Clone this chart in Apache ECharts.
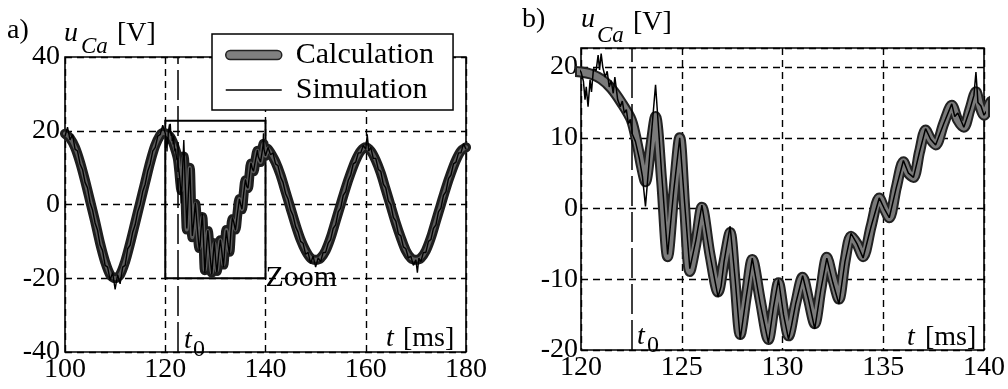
<!DOCTYPE html>
<html><head><meta charset="utf-8">
<script src="https://cdn.jsdelivr.net/npm/echarts/dist/echarts.min.js"></script>
<style>html,body{margin:0;padding:0;background:#fff}#c{width:1008px;height:389px}</style>
</head><body><div id="c"></div>
<script>
// ---- data (t in ms, u_Ca in V) ----
const leftTicksX = [100, 120, 140, 160, 180];
const rightTicksX = [120, 125, 130, 135, 140];
const t0 = 122.5;
const zoomBox = [[120, -20], [140, 22.7]];

const calcBefore = [[100,19.2],[101,18.0],[102,15.5],[103,11.5],[104,6.5],[105,1.0],[106,-4.5],[107,-10.5],[108,-15.5],[109,-19.0],[110,-20.0],[111,-19.0],[112,-15.5],[113,-10.5],[114,-5.0],[115,0.5],[116,6.0],[117,11.5],[118,16.0],[119,18.8],[119.5,19.4]];
const calcZoom = [[120.0,19.3],[120.5,19.0],[121.0,18.3],[121.5,17.0],[122.0,15.0],[122.5,12.5],[122.8,9.0],[123.0,6.0],[123.2,3.8],[123.45,8.5],[123.7,13.0],[124.0,4.0],[124.3,-6.8],[124.6,2.0],[124.9,10.0],[125.15,0.0],[125.4,-8.9],[125.7,-5.0],[126.0,0.2],[126.4,-6.5],[126.8,-11.8],[127.1,-7.5],[127.4,-3.4],[127.65,-10.5],[127.9,-17.8],[128.2,-12.5],[128.5,-7.2],[128.9,-13.0],[129.3,-18.5],[129.55,-14.5],[129.8,-10.5],[130.05,-14.5],[130.3,-18.0],[130.65,-13.5],[131.0,-9.7],[131.3,-13.0],[131.6,-16.3],[131.9,-11.5],[132.2,-6.9],[132.5,-10.0],[132.8,-12.8],[133.1,-7.5],[133.4,-3.9],[133.7,-5.0],[134.0,-6.8],[134.4,-2.5],[134.8,1.5],[135.05,0.0],[135.3,-1.3],[135.65,3.0],[136.0,6.6],[136.25,5.0],[136.5,4.4],[136.8,8.0],[137.1,11.1],[137.35,9.8],[137.6,9.0],[138.0,12.0],[138.4,14.6],[138.7,12.5],[139.0,11.5],[139.3,14.0],[139.6,16.5],[139.8,14.5],[140.0,13.2]];
const calcAfter = [[140.4,15.2],[141,14.0],[142,11.5],[143,8.0],[144,3.5],[145,-1.0],[146,-5.5],[147,-9.5],[148,-12.5],[149,-14.5],[150,-15.0],[151,-14.5],[152,-12.5],[153,-9.0],[154,-4.5],[155,0.0],[156,4.5],[157,8.5],[158,12.0],[159,14.5],[160,15.5],[161,14.5],[162,12.0],[163,8.5],[164,4.0],[165,-0.5],[166,-5.0],[167,-9.0],[168,-12.5],[169,-14.5],[170,-15.0],[171,-14.5],[172,-12.5],[173,-9.0],[174,-4.5],[175,0.0],[176,4.5],[177,8.5],[178,12.0],[179,14.5],[180,15.5]];

const simBefore = [[100,18.5],[100.5,21.0],[101,17.5],[101.5,19.0],[102,15.0],[102.5,14.5],[103,11.0],[103.5,9.5],[104,6.0],[104.5,4.5],[105,0.5],[105.5,-1.5],[106,-5.0],[106.5,-7.0],[107,-11.0],[107.5,-12.5],[108,-16.5],[108.5,-17.0],[109,-20.5],[109.5,-18.5],[110,-23.0],[110.5,-19.0],[111,-21.5],[111.5,-17.0],[112,-16.5],[112.5,-12.0],[113,-11.0],[113.5,-7.5],[114,-5.5],[114.5,-2.0],[115,0.0],[115.5,3.5],[116,5.5],[116.5,9.0],[117,11.0],[117.5,14.5],[118,15.5],[118.5,18.5],[119,19.0],[119.5,21.5]];
const simZoom = [[120.0,19.3],[120.12,18.0],[120.2,15.4],[120.26,17.2],[120.35,14.4],[120.45,18.2],[120.52,16.5],[120.62,19.8],[120.75,19.5],[120.85,21.7],[120.92,19.6],[121.0,21.9],[121.08,20.0],[121.2,18.6],[121.3,19.4],[121.4,17.2],[121.5,18.1],[121.6,16.3],[121.68,18.6],[121.82,15.4],[121.95,14.4],[122.05,15.2],[122.15,13.5],[122.25,14.0],[122.35,12.0],[122.45,12.6],[122.55,10.5],[122.7,9.5],[122.9,7.0],[123.05,4.5],[123.2,0.3],[123.45,9.0],[123.7,17.5],[124.0,5.0],[124.3,-6.5],[124.6,2.5],[124.9,10.0],[125.15,0.5],[125.4,-8.5],[125.7,-4.5],[126.0,0.5],[126.4,-6.5],[126.8,-12.5],[126.95,-11.0],[127.1,-7.5],[127.4,-2.5],[127.65,-10.0],[127.9,-18.5],[128.2,-12.5],[128.5,-7.0],[128.9,-13.5],[129.3,-19.0],[129.55,-14.0],[129.8,-10.0],[130.05,-15.0],[130.3,-18.5],[130.45,-16.5],[130.65,-13.5],[131.0,-9.5],[131.3,-13.0],[131.6,-17.0],[131.9,-11.5],[132.2,-7.0],[132.5,-10.5],[132.8,-13.5],[133.1,-7.5],[133.4,-3.5],[133.7,-5.0],[134.0,-7.0],[134.4,-2.5],[134.8,1.5],[135.05,0.0],[135.3,-1.3],[135.65,3.0],[136.0,6.8],[136.25,5.0],[136.5,4.4],[136.8,8.0],[137.1,11.3],[137.35,9.8],[137.6,9.0],[138.0,12.0],[138.4,14.8],[138.55,13.0],[138.7,13.5],[139.0,11.5],[139.3,14.0],[139.5,16.0],[139.6,19.3],[139.7,15.0],[139.85,14.5],[140.0,13.2]];
const simAfter = [[140.5,15.5],[141,13.5],[141.5,14.0],[142,11.0],[142.5,10.5],[143,7.5],[143.5,6.0],[144,3.0],[144.5,1.5],[145,-1.5],[145.5,-3.0],[146,-6.0],[146.5,-7.5],[147,-10.0],[147.5,-10.5],[148,-13.5],[148.5,-13.0],[149,-16.0],[149.5,-14.0],[150,-17.0],[150.5,-14.5],[151,-15.5],[151.5,-13.0],[152,-13.0],[152.5,-10.5],[153,-9.5],[153.5,-6.5],[154,-5.5],[154.5,-2.0],[155,-1.0],[155.5,2.5],[156,3.5],[156.5,6.5],[157,8.0],[157.5,11.0],[158,11.5],[158.5,14.0],[159,14.0],[159.5,16.0],[160,15.0],[160.3,19.0],[160.6,14.5],[161,15.5],[161.5,12.5],[162,12.5],[162.5,9.5],[163,9.0],[163.5,5.5],[164,4.5],[164.5,1.0],[165,0.0],[165.5,-3.5],[166,-4.5],[166.5,-8.0],[167,-8.5],[167.5,-11.5],[168,-12.0],[168.5,-14.5],[169,-14.0],[169.5,-16.5],[170,-15.0],[170.3,-18.5],[170.6,-14.5],[171,-15.5],[171.5,-13.0],[172,-13.0],[172.5,-10.0],[173,-9.5],[173.5,-6.5],[174,-5.5],[174.5,-2.0],[175,-1.0],[175.5,2.5],[176,3.5],[176.5,7.0],[177,8.0],[177.5,11.0],[178,11.5],[178.5,14.0],[179,14.0],[179.5,16.5],[180,15.0]];

const calcAll = calcBefore.concat(calcZoom, calcAfter);
const simAll = simBefore.concat(simZoom, simAfter);

// ---- chart ----
const FONT = '"Liberation Serif", "Times New Roman", serif';
const chart = echarts.init(document.getElementById('c'));

function axisX(idx, min, max, interval) {
  return {
    type: 'value', gridIndex: idx, min: min, max: max, interval: interval,
    axisLine: {show: false}, axisTick: {show: false},
    axisLabel: {color: '#000', fontFamily: FONT, fontSize: 28, margin: 4},
    splitLine: {show: true, lineStyle: {color: '#000', width: 1.4, type: [7, 5]}}
  };
}
function axisY(idx, min, max, interval, margin) {
  return {
    type: 'value', gridIndex: idx, min: min, max: max, interval: interval,
    axisLine: {show: false}, axisTick: {show: false},
    axisLabel: {color: '#000', fontFamily: FONT, fontSize: 28, margin: margin, showMaxLabel: idx === 0},
    splitLine: {show: true, lineStyle: {color: '#000', width: 1.4, type: [7, 5]}}
  };
}
const t0Line = {
  silent: true, symbol: 'none', label: {show: false},
  lineStyle: {color: '#000', width: 1.5, type: [30, 6]},
  data: [{xAxis: t0}]
};
function txt(x, base, s, size, italic) {
  return {type: 'text', x: x, y: base - 0.3 * size, z: 100,
    style: {text: s, fill: '#000', font: (italic ? 'italic ' : '') + size + 'px ' + FONT, verticalAlign: 'middle', align: 'left'}};
}

chart.setOption({
  animation: false,
  backgroundColor: '#fff',
  grid: [
    {left: 65, width: 401, top: 57, height: 295, show: true, borderColor: '#000', borderWidth: 1.6, backgroundColor: 'transparent'},
    {left: 581, width: 407, top: 48, height: 302, show: true, borderColor: '#000', borderWidth: 1.6, backgroundColor: 'transparent'}
  ],
  xAxis: [axisX(0, 100, 180, 20), axisX(1, 120, 140, 5)],
  yAxis: [axisY(0, -40, 40, 20, 5), axisY(1, -20, 22.7, 10, 3)],
  legend: {
    left: 212, top: 34, orient: 'vertical',
    backgroundColor: '#fff', borderColor: '#000', borderWidth: 1.5, borderRadius: 0,
    padding: [6, 19, 5, 13], itemGap: 5, itemWidth: 56, itemHeight: 9,
    textStyle: {color: '#000', fontFamily: FONT, fontSize: 30, lineHeight: 30, padding: [0, 0, 0, 9]},
    data: [
      {name: 'Calculation', icon: 'path://M4.5,0H51.5A4.5,4.5 0 0 1 51.5,9H4.5A4.5,4.5 0 0 1 4.5,0Z',
        itemStyle: {color: '#808080', borderColor: '#222', borderWidth: 1.5}},
      {name: 'Simulation', icon: 'path://M0,0H56V1.6H0Z', itemStyle: {color: '#000', borderWidth: 0}}
    ]
  },
  series: [
    {name: '_edgeL', type: 'line', xAxisIndex: 0, yAxisIndex: 0, data: calcAll, symbol: 'none', smooth: 0.3,
      lineStyle: {color: '#1e1e1e', width: 10, join: 'round', cap: 'round'}, z: 2},
    {name: 'Calculation', type: 'line', xAxisIndex: 0, yAxisIndex: 0, data: calcAll, symbol: 'none', smooth: 0.3,
      itemStyle: {color: '#808080'},
      lineStyle: {color: '#5c5c5c', width: 4, join: 'round', cap: 'round'}, z: 3,
      markArea: {silent: true, itemStyle: {color: 'rgba(0,0,0,0)', borderColor: '#000', borderWidth: 2},
        data: [[{coord: zoomBox[0]}, {coord: zoomBox[1]}]]},
      markPoint: {silent: true, symbol: 'circle', symbolSize: 0,
        label: {show: true, position: 'right', distance: 0, formatter: 'Zoom', color: '#000', fontFamily: FONT, fontSize: 30},
        data: [{coord: [zoomBox[1][0], zoomBox[0][1]]}]}
    },
    {name: 'Simulation', type: 'line', xAxisIndex: 0, yAxisIndex: 0, data: simAll, symbol: 'none',
      itemStyle: {color: '#000'},
      lineStyle: {color: '#000', width: 1.4}, z: 4, markLine: t0Line},
    {name: '_edgeR', type: 'line', xAxisIndex: 1, yAxisIndex: 1, data: calcAll, symbol: 'none', smooth: 0.3,
      lineStyle: {color: '#222', width: 11, join: 'round', cap: 'round'}, z: 2},
    {name: 'Calculation', type: 'line', xAxisIndex: 1, yAxisIndex: 1, data: calcAll, symbol: 'none', smooth: 0.3,
      itemStyle: {color: '#808080'},
      lineStyle: {color: '#7a7a7a', width: 7, join: 'round', cap: 'round'}, z: 3},
    {name: 'Simulation', type: 'line', xAxisIndex: 1, yAxisIndex: 1, data: simAll, symbol: 'none',
      itemStyle: {color: '#000'},
      lineStyle: {color: '#000', width: 1.5}, z: 4, markLine: t0Line}
  ],
  graphic: [
    txt(7, 39, 'a)', 28, false),
    txt(64, 42, 'u', 28, true),
    txt(81, 54, 'Ca', 23, true),
    txt(117, 42, '[V]', 28, false),
    txt(386, 347, 't', 28, true),
    txt(403, 347, '[ms]', 28, false),
    txt(184, 349, 't', 28, true),
    txt(193, 357, '0', 24, false),
    txt(522, 28, 'b)', 28, false),
    txt(581, 28, 'u', 28, true),
    txt(597, 43, 'Ca', 23, true),
    txt(633, 31, '[V]', 28, false),
    txt(907, 346, 't', 28, true),
    txt(925, 346, '[ms]', 28, false),
    txt(637, 345, 't', 28, true),
    txt(647, 353, '0', 24, false)
  ]
});
</script></body></html>
